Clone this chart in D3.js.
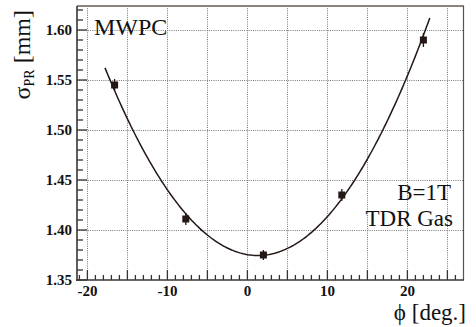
<!DOCTYPE html>
<html>
<head>
<meta charset="utf-8">
<script src="https://cdn.jsdelivr.net/npm/d3@7/dist/d3.min.js"></script>
<style>
  html, body { margin: 0; padding: 0; background: #fff; }
  svg { display: block; }
  svg text { font-family: "Liberation Serif", "Times New Roman", Times, Tinos, "Noto Serif", "DejaVu Serif", FreeSerif, serif; }
</style>
</head>
<body>
<svg id="chart" width="476" height="327"></svg>
<script>
// Measured resolution vs. incidence angle
const phiDeg   = [-16.6, -7.7, 2.0, 11.8, 22.0];
const sigmaPR  = [1.545, 1.411, 1.375, 1.435, 1.590];
const sigmaErr = [0.006, 0.006, 0.005, 0.006, 0.007];

// Quadratic fit: p0 + p1*phi + p2*phi^2, drawn over the fitted range
const fitCoefficients = [1.3754, -0.00134, 0.000514];
const fitRange = [-17.8, 22.8];

// Axis ticks and labels
const xLabelTicks = [-20, -10, 0, 10, 20];
const yLabelTicks = [1.35, 1.40, 1.45, 1.50, 1.55, 1.60];
const xGridTicks  = [-20, -15, -10, -5, 0, 5, 10, 15, 20, 25];

const ink = "#231815";

const svg = d3.select("#chart");
const plotL = 77, plotR = 463, plotT = 6, plotB = 280;

const x = d3.scaleLinear().domain([-21.3, 26.95]).range([plotL, plotR]);
const y = d3.scaleLinear().domain([1.35, 1.624]).range([plotB, plotT]);

// Grid
const grid = svg.append("g").attr("stroke", "#777").attr("stroke-width", 1)
  .attr("stroke-dasharray", "1,1.2");
grid.selectAll("line.v").data(xGridTicks).join("line")
  .attr("x1", d => Math.round(x(d)) + 0.5).attr("x2", d => Math.round(x(d)) + 0.5)
  .attr("y1", plotT).attr("y2", plotB);
grid.selectAll("line.h").data(yLabelTicks.slice(1)).join("line")
  .attr("y1", d => Math.round(y(d)) + 0.5).attr("y2", d => Math.round(y(d)) + 0.5)
  .attr("x1", plotL).attr("x2", plotR);

// Frame: top and right edges
svg.append("line").attr("x1", plotL).attr("x2", plotR + 1).attr("y1", plotT).attr("y2", plotT)
  .attr("stroke", "#8a8580").attr("stroke-width", 2);
svg.append("line").attr("x1", plotR + 0.5).attr("x2", plotR + 0.5).attr("y1", plotT).attr("y2", plotB)
  .attr("stroke", "#555").attr("stroke-width", 1.2);

// Y axis with inward ticks
const yMinor = d3.range(135, 163).map(v => v / 100);
const yAxis = svg.append("g").attr("transform", `translate(${plotL},0)`);
yAxis.selectAll("line.t").data(yMinor).join("line")
  .attr("x1", 0).attr("x2", d => (Math.round(d * 100) % 5 === 0 ? 10 : 6))
  .attr("y1", d => y(d)).attr("y2", d => y(d))
  .attr("stroke", "#333").attr("stroke-width", 1.3);
yAxis.append("line").attr("x1", 0).attr("x2", 0).attr("y1", plotT).attr("y2", plotB + 1)
  .attr("stroke", "#3a3533").attr("stroke-width", 1.6);
yAxis.selectAll("text").data(yLabelTicks).join("text")
  .attr("x", -5).attr("y", d => y(d) + 5)
  .attr("text-anchor", "end")
  .attr("font-weight", "bold").attr("font-size", 15)
  .attr("fill", "#111")
  .text(d => d3.format(".2f")(d));

// X axis with inward ticks
const xMinor = d3.range(-21, 27);
const xAxis = svg.append("g").attr("transform", `translate(0,${plotB})`);
xAxis.selectAll("line.t").data(xMinor).join("line")
  .attr("x1", d => x(d)).attr("x2", d => x(d))
  .attr("y1", 0).attr("y2", d => (d % 5 === 0 ? -10 : -5))
  .attr("stroke", "#333").attr("stroke-width", 1.3);
xAxis.append("line").attr("x1", plotL - 1).attr("x2", plotR + 1).attr("y1", 0).attr("y2", 0)
  .attr("stroke", "#3a3533").attr("stroke-width", 1.6);
xAxis.selectAll("text").data(xLabelTicks).join("text")
  .attr("x", d => x(d)).attr("y", 16)
  .attr("text-anchor", "middle")
  .attr("font-weight", "bold").attr("font-size", 15)
  .attr("fill", "#111")
  .text(d => d);

// Fit curve
const fit = v => fitCoefficients.reduce((s, c, i) => s + c * Math.pow(v, i), 0);
const curveX = d3.range(fitRange[0], fitRange[1] + 1e-9, (fitRange[1] - fitRange[0]) / 200);
svg.append("path")
  .datum(curveX)
  .attr("fill", "none").attr("stroke", ink).attr("stroke-width", 1.5)
  .attr("d", d3.line().x(d => x(d)).y(d => y(fit(d))));

// Data points with error bars
const pts = phiDeg.map((p, i) => ({ p, s: sigmaPR[i], e: sigmaErr[i] }));
svg.selectAll("line.err").data(pts).join("line")
  .attr("x1", d => x(d.p)).attr("x2", d => x(d.p))
  .attr("y1", d => y(d.s - d.e)).attr("y2", d => y(d.s + d.e))
  .attr("stroke", ink).attr("stroke-width", 1.3);
svg.selectAll("rect.pt").data(pts).join("rect")
  .attr("x", d => x(d.p) - 3.5).attr("y", d => y(d.s) - 3.5)
  .attr("width", 7).attr("height", 7)
  .attr("fill", ink);

// Labels
const label = (txt, px, py, anchor, size) => svg.append("text")
  .attr("x", px).attr("y", py).attr("text-anchor", anchor)
  .attr("font-size", size).attr("fill", "#111")
  .text(txt);
label("MWPC", 94, 35, "start", 24);
label("B=1T", 451, 200, "end", 23);
label("TDR Gas", 453, 226, "end", 23);
label("\u03D5 [deg.]", 466, 320, "end", 23);

// Y title: sigma_PR [mm]
const yt = svg.append("text")
  .attr("transform", "translate(30,10) rotate(-90)")
  .attr("text-anchor", "end")
  .attr("font-size", 24).attr("fill", "#111");
yt.append("tspan").text("\u03C3");
yt.append("tspan").attr("font-size", 14).attr("dy", 4).text("PR");
yt.append("tspan").attr("dy", -4).text(" [mm]");
</script>
</body>
</html>
